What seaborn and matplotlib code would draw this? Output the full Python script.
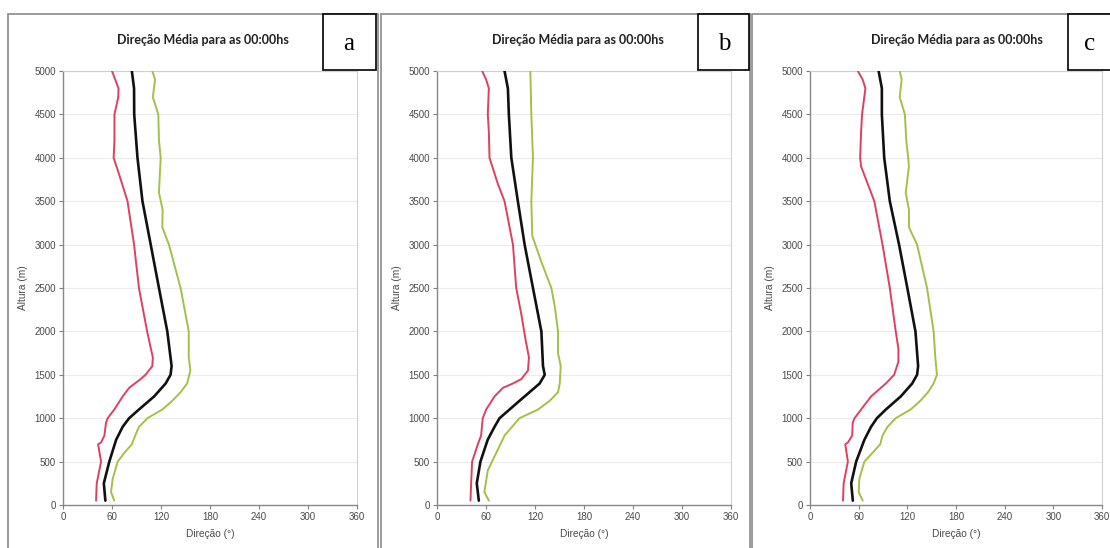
import matplotlib
matplotlib.use("Agg")
import matplotlib.pyplot as plt
import seaborn as sns
import pandas as pd
from matplotlib.patches import Rectangle

# ---------------- data (direction in degrees vs height in m) ----------------
# Panel a
a_red_h   = [50, 250, 500, 700, 720, 800, 950, 1000, 1100, 1250, 1350, 1450, 1500, 1600, 1700, 2000, 2500, 3000, 3500, 3800, 4000, 4200, 4500, 4700, 4800, 4900, 5000]
a_red_x   = [40.5, 41.3, 46.6, 43, 46.6, 50.7, 52.7, 54.7, 62.8, 73, 81, 95, 101, 109.4, 110, 103, 93, 87, 79, 69, 62, 63, 63, 67.7, 68, 64, 60]
a_black_h = [50, 250, 500, 750, 900, 1000, 1100, 1250, 1400, 1500, 1600, 2000, 2500, 3000, 3500, 4000, 4500, 4800, 5000]
a_black_x = [51.9, 50, 56.7, 65, 73, 81, 93, 111.5, 125.7, 131.7, 133, 127.7, 117.5, 107.4, 97.3, 91.2, 87.2, 87, 84.3]
a_green_h = [50, 150, 300, 500, 600, 700, 800, 900, 1000, 1100, 1200, 1300, 1400, 1550, 1700, 2000, 2300, 2500, 3000, 3200, 3400, 3600, 4000, 4200, 4500, 4700, 4900, 5000]
a_green_x = [62.8, 58.8, 60.8, 67, 75, 84.3, 88.4, 93, 103.4, 121.6, 133.8, 144, 152, 156, 154, 154, 148, 144, 129.7, 121.6, 122, 117.5, 119.6, 117.5, 116.7, 110, 112.7, 109.4]

# Panel b
b_red_h   = [50, 250, 500, 700, 800, 1000, 1100, 1250, 1350, 1400, 1450, 1550, 1700, 1900, 2200, 2500, 3000, 3500, 3700, 4000, 4300, 4500, 4800, 4900, 5000]
b_red_x   = [41, 41.8, 43, 50, 54, 56, 60.2, 70.4, 80.7, 93, 103.2, 111.4, 112.6, 108.5, 103.2, 97, 93, 82.7, 74.5, 64.3, 63.5, 62.2, 63.5, 60.2, 55.3]
b_black_h = [50, 250, 500, 750, 900, 1000, 1200, 1400, 1500, 1600, 2000, 2500, 3000, 3500, 4000, 4500, 4800, 5000]
b_black_x = [51.2, 48.7, 53.2, 62, 70.4, 76.6, 101, 125.7, 131.9, 129.8, 127.8, 117.5, 107.3, 99, 91, 88, 86.8, 82.7]
b_green_h = [50, 150, 400, 600, 800, 1000, 1100, 1200, 1300, 1400, 1600, 1750, 2000, 2300, 2500, 2800, 3100, 3500, 4000, 4500, 5000]
b_green_x = [63.5, 58, 62.2, 72.5, 82.7, 101, 123.7, 138, 148.2, 150.3, 151.5, 148.2, 148.2, 144, 140, 127.8, 116.7, 115.5, 117.5, 115.5, 114.3]

# Panel c
c_red_h   = [50, 250, 500, 700, 720, 800, 950, 1000, 1100, 1250, 1400, 1500, 1650, 1800, 2000, 2500, 3000, 3500, 3900, 4000, 4300, 4500, 4800, 4900, 5000]
c_red_x   = [40.7, 41.5, 46.7, 43.5, 46.7, 52, 52.7, 55, 63, 75.2, 93.5, 103.7, 109, 109, 105.7, 98.4, 89.4, 79.3, 63, 61.8, 63, 64.2, 68.3, 65, 59]
c_black_h = [50, 250, 500, 750, 900, 1000, 1100, 1250, 1400, 1500, 1600, 2000, 2500, 3000, 3500, 4000, 4500, 4800, 5000]
c_black_x = [52.8, 50.8, 56.9, 67, 75.2, 82.5, 93.5, 111.8, 126, 132, 133.3, 130, 120, 109.8, 98.4, 91.5, 88.6, 88.6, 84.6]
c_green_h = [50, 150, 300, 500, 600, 700, 800, 900, 1000, 1100, 1200, 1300, 1400, 1500, 1700, 2000, 2500, 3000, 3200, 3400, 3600, 3900, 4000, 4200, 4500, 4700, 4900, 5000]
c_green_x = [65, 60, 60.8, 67, 77, 86.6, 89.4, 95.5, 105.7, 124, 136, 145.5, 152.4, 156.5, 154.5, 152.4, 144.3, 132, 122, 122, 118, 122, 121, 118.7, 117, 110.6, 113, 110.6]

panel_letters = ["a", "b", "c"]
title_text = "Direção Média para as 00:00hs"
x_label = "Direção (°)"
y_label = "Altura (m)"
x_ticks = [0, 60, 120, 180, 240, 300, 360]
y_ticks = [0, 500, 1000, 1500, 2000, 2500, 3000, 3500, 4000, 4500, 5000]

panels = [
    [(a_red_x, a_red_h), (a_black_x, a_black_h), (a_green_x, a_green_h)],
    [(b_red_x, b_red_h), (b_black_x, b_black_h), (b_green_x, b_green_h)],
    [(c_red_x, c_red_h), (c_black_x, c_black_h), (c_green_x, c_green_h)],
]

# ---------------- styling ----------------
sns.set_theme(style="white")
plt.rcParams['font.family'] = ['Liberation Sans', 'DejaVu Sans']

W, H = 1110, 548
fig = plt.figure(figsize=(W / 100, H / 100), dpi=100)
fig.patch.set_facecolor("white")

def fx(px):
    return px / W

def fy(py):
    return 1 - py / H

series_colors = ["#de4060", "#111111", "#a3c04a"]
series_lw = [1.4, 1.9, 1.4]

axes_px = [(63, 357), (437, 731), (810, 1102)]
frame_px = [(8, 378), (381, 750), (752, 1112)]
letter_px = [(323, 376), (698, 749), (1068, 1112)]
title_cx = [203, 578, 957]
y_top, y_bot = 71, 505

for i, (series, (xl, xr), (fl, fr), (ll, lr)) in enumerate(zip(panels, axes_px, frame_px, letter_px)):
    # panel frame
    fig.patches.append(Rectangle((fx(fl), fy(560)), fx(fr - fl), fy(14) - fy(560),
                                 transform=fig.transFigure, fill=False,
                                 edgecolor="#8a8a8a", linewidth=1.2, zorder=0))
    ax = fig.add_axes([fx(xl), fy(y_bot), fx(xr - xl), fy(y_top) - fy(y_bot)])
    ax.set_facecolor("white")
    for j, (xs, hs) in enumerate(series):
        df = pd.DataFrame({"dir": xs, "alt": hs})
        sns.lineplot(data=df, x="dir", y="alt", sort=False, estimator=None,
                     color=series_colors[j], linewidth=series_lw[j], ax=ax, zorder=3)
    ax.set_xlim(0, 360)
    ax.set_ylim(0, 5000)
    ax.set_xticks(x_ticks)
    ax.set_yticks(y_ticks)
    ax.set_xticklabels([str(t) for t in x_ticks], fontsize=7, color="#4a4a4a")
    ax.set_yticklabels([str(t) for t in y_ticks], fontsize=7, color="#4a4a4a")
    ax.tick_params(axis="both", length=3, width=0.8, color="#808080", pad=2, direction="out",
                   bottom=True, left=True)
    ax.set_xlabel(x_label, fontsize=7.3, color="#4a4a4a", labelpad=5)
    ax.set_ylabel(y_label, fontsize=7.3, color="#4a4a4a", labelpad=5)
    ax.yaxis.grid(True, color="#ececec", linewidth=0.8)
    ax.set_axisbelow(True)
    for side in ["top", "right"]:
        ax.spines[side].set_color("#d0d0d0")
        ax.spines[side].set_linewidth(0.8)
    for side in ["left", "bottom"]:
        ax.spines[side].set_color("#888888")
        ax.spines[side].set_linewidth(1.0)
    # title
    fig.text(fx(title_cx[i]), fy(40), title_text, ha="center", va="center",
             fontsize=9, fontweight="bold", family=["Lato", "DejaVu Sans"], color="#202020")
    # letter box
    fig.patches.append(Rectangle((fx(ll), fy(70)), fx(lr - ll), fy(14) - fy(70),
                                 transform=fig.transFigure, facecolor="white",
                                 edgecolor="black", linewidth=1.2, zorder=5))
    fig.text(fx(ll + 26 if i < 2 else ll + 22), fy(44), panel_letters[i], ha="center", va="center",
             fontsize=18, family="Liberation Serif", color="black", zorder=6)

fig.savefig("out.png", dpi=100, facecolor="white")
